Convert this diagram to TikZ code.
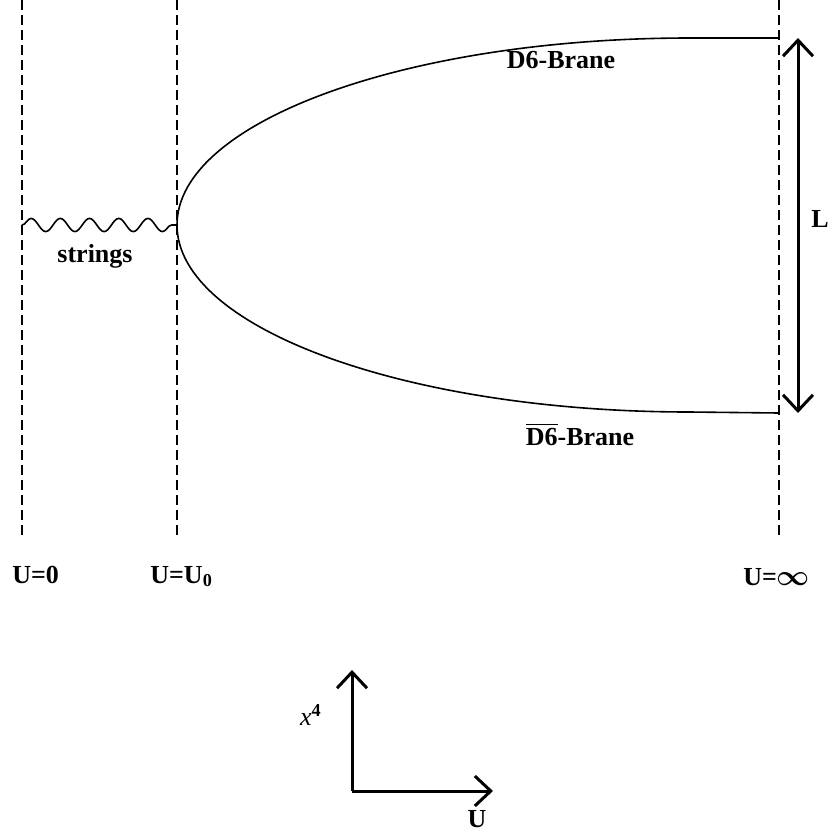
\documentclass[tikz,border=0pt]{standalone}
\usepackage{amsmath}
\usepackage{fontspec}
\setmainfont{Liberation Serif}
\usetikzlibrary{arrows.meta, positioning, decorations.pathmorphing}
\tikzset{
  wall/.style   = {dash pattern=on 5pt off 2.5pt, line width=0.9pt},
  brane/.style  = {line width=0.8pt},
  strng/.style  = {decorate, decoration={snake, segment length=14.6pt, amplitude=3.3pt},
                   line width=0.8pt},
  lbl/.style    = {font=\fontsize{13}{15}\selectfont\bfseries, inner sep=0pt, anchor=base},
  sep/.style    = {{Straight Barb[length=8pt,width=15pt]}-{Straight Barb[length=8pt,width=15pt]},
                   line width=1.5pt},
  axis/.style   = {-{Straight Barb[length=8pt,width=15pt]}, line width=1.5pt},
}

\begin{document}
\begin{tikzpicture}[x=0.5pt, y=-0.5pt]
    \useasboundingbox (0,0) rectangle (831,836);
    % walls at U=0, U=U0, U=infinity
    \coordinate (w0top) at (22,0);    \coordinate (w0bot) at (22,535);
    \coordinate (wutop) at (177,0);   \coordinate (wubot) at (177,535);
    \coordinate (witop) at (779,0);   \coordinate (wibot) at (779,535);
    \draw[wall] (w0top) -- (w0bot);
    \draw[wall] (wutop) -- (wubot);
    \draw[wall] (witop) -- (wibot);

    % brane / antibrane joined at the tip
    \coordinate (w0mid)  at (22,225);
    \coordinate (tip)    at (177,225);
    \coordinate (d6end)  at (779,38);
    \coordinate (ad6end) at (779,413);
    \draw[brane] (d6end) -- (690,38)
        arc[start angle=90, end angle=270, x radius=256.5pt, y radius=93.5pt] -- (ad6end);
    \draw[strng] (w0mid) -- (tip);

    % separation L
    \coordinate (ltop) at (798,38);
    \coordinate (lbot) at (798,413);
    \draw[sep] (ltop) -- (lbot);

    % labels
    \node[lbl] (d6)   at (561,68)  {D6-Brane};
    \node[lbl] (ad6)  at (580,445) {$\overline{\mbox{D6}}$-Brane};
    \node[lbl] (str)  at (95,262)  {strings};
    \node[lbl] (len)  at (820,227) {L};
    \node[lbl, anchor=base west] (u0)   at (12,583)  {U=0};
    \node[lbl, anchor=base west] (uu0)  at (150,583) {U=U\textsubscript{0}};
    \node[lbl, anchor=base west] (uinf) at (743,585) {U={\fontsize{14}{16}\selectfont$\boldsymbol{\infty}$}};

    % axes
    \coordinate (orig) at (352,791);
    \coordinate (xtop) at (352,670);
    \coordinate (uend) at (493,791);
    \draw[axis] (orig) -- (xtop);
    \draw[axis] (orig) -- (uend);
    \node[lbl] (xlbl) at (311,725) {\textit{\mdseries x}\textsuperscript{4}};
    \node[lbl] (ulbl) at (477,827) {U};
\end{tikzpicture}
\end{document}
